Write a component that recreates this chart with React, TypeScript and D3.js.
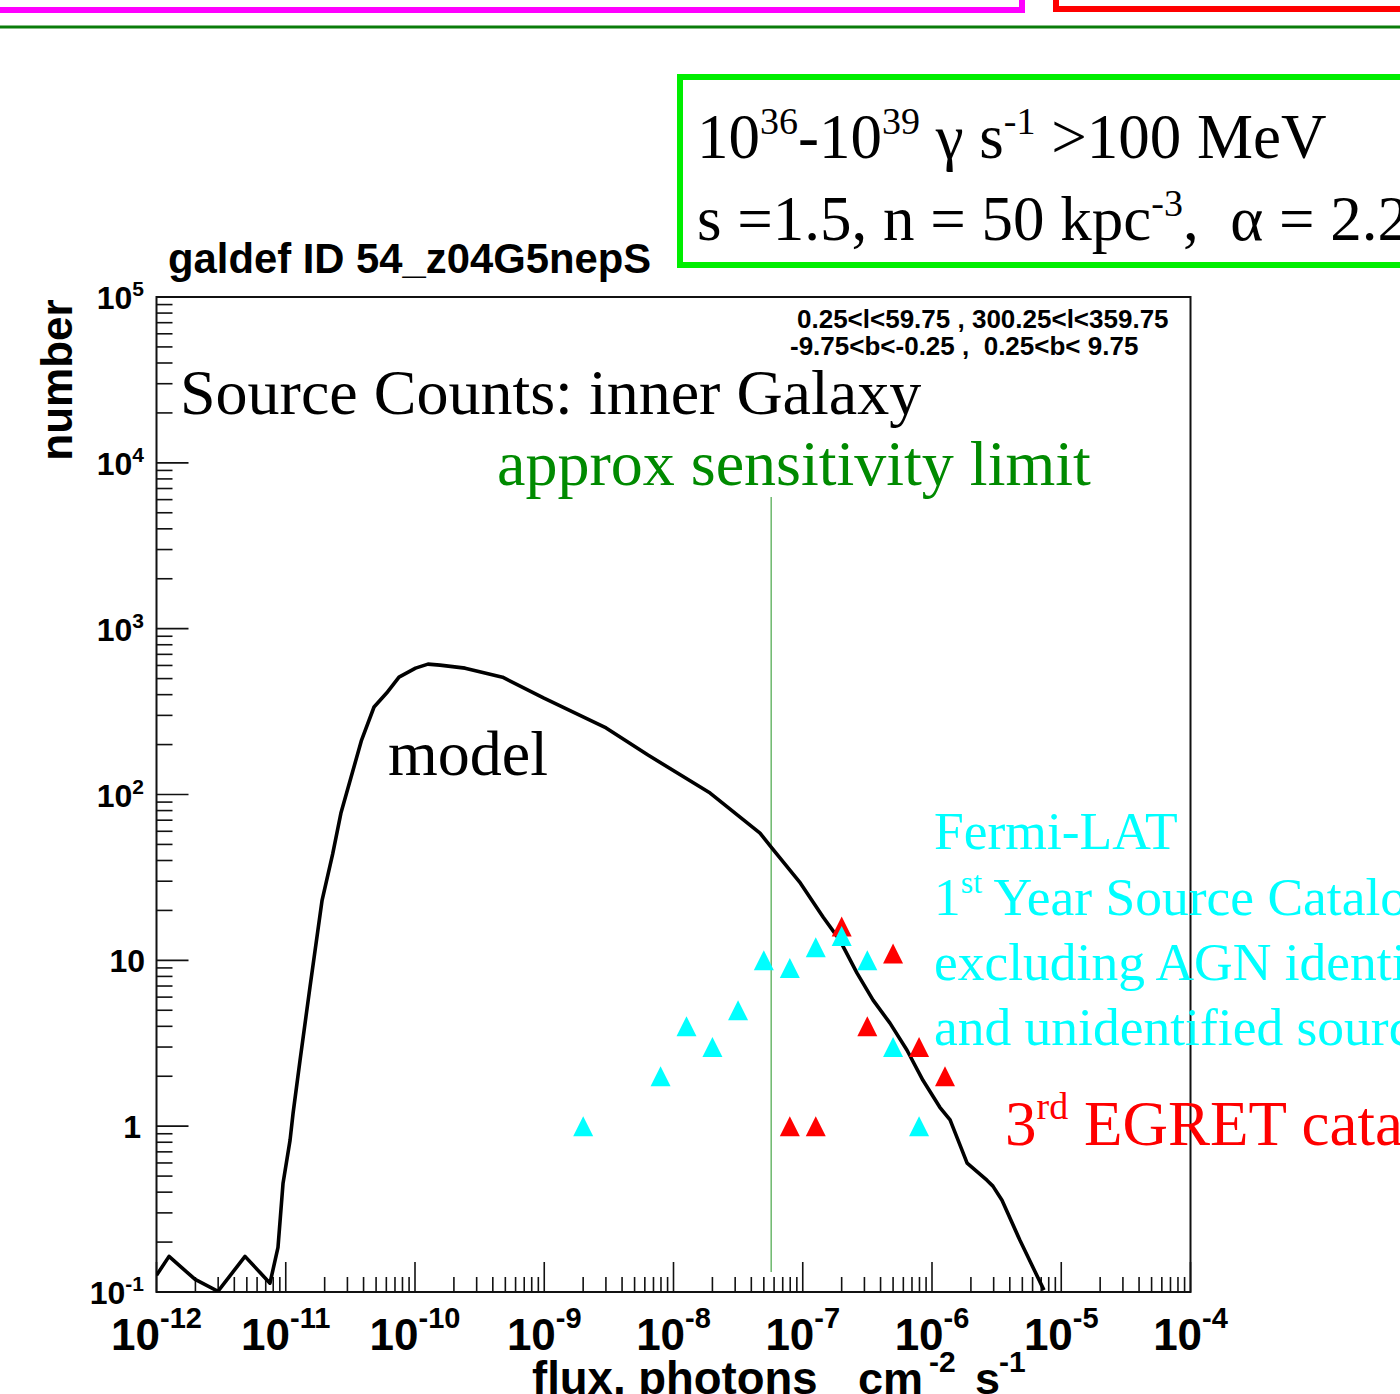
import React from "react";
import * as d3 from "d3";

// ---- data ----
const modelFlux = [1.0e-12, 1.25e-12, 1.99e-12, 2.99e-12, 4.84e-12, 7.55e-12, 8.71e-12, 9.53e-12, 1.08e-11, 1.14e-11, 1.29e-11, 1.54e-11, 1.91e-11, 2.31e-11, 2.67e-11, 3.2e-11, 3.86e-11, 4.82e-11, 6.03e-11, 7.52e-11, 1.01e-10, 1.26e-10, 1.56e-10, 2.44e-10, 4.76e-10, 9.95e-10, 3.01e-9, 6.35e-9, 1.92e-8, 4.67e-8, 5.78e-8, 9.6e-8, 1.44e-7, 1.94e-7, 2.63e-7, 3.5e-7, 4.73e-7, 6.41e-7, 8.51e-7, 1.15e-6, 1.38e-6, 1.87e-6, 2.66e-6, 2.96e-6, 3.48e-6, 4.79e-6, 7.35e-6];
const modelCounts = [0.126, 0.164, 0.119, 0.101, 0.164, 0.113, 0.186, 0.453, 0.824, 1.2, 2.5, 6.9, 23, 44, 77, 127, 213, 337, 409, 510, 578, 611, 603, 578, 510, 381, 252, 173, 102, 58.5, 47.5, 29.2, 18.2, 13.2, 8.37, 5.75, 4.18, 2.87, 1.89, 1.30, 1.09, 0.598, 0.472, 0.435, 0.358, 0.205, 0.1026];

const fermiFlux = [2.0e-9, 7.94e-9, 1.26e-8, 2.0e-8, 3.16e-8, 5.0e-8, 7.94e-8, 1.26e-7, 2.0e-7, 3.16e-7, 5.0e-7, 7.94e-7];
const fermiCounts = [1, 2, 4, 3, 5, 10, 9, 12, 14, 10, 3, 1];

const egretFlux = [7.94e-8, 1.26e-7, 2.0e-7, 3.16e-7, 5.0e-7, 7.94e-7, 1.26e-6];
const egretCounts = [1, 1, 16, 4, 11, 3, 2];

const sensitivityFlux = 5.7e-8;

const xDecades = [-12, -11, -10, -9, -8, -7, -6, -5, -4];
const yDecades = [-1, 0, 1, 2, 3, 4, 5];

const SANS = "'Liberation Sans', Arial, Helvetica, sans-serif";
const SERIF = "'Liberation Serif', 'Times New Roman', Times, serif";

export default function App() {
  const L = 156.5, R = 1190.5, T = 297, B = 1292;
  const x = d3.scaleLog().domain([1e-12, 1e-4]).range([L, R]);
  const y = d3.scaleLog().domain([1e-1, 1e5]).range([B, T]);

  const line = d3
    .line<number>()
    .x((_, i) => x(modelFlux[i]))
    .y((_, i) => y(modelCounts[i]));

  const xMinor: number[] = [];
  xDecades.slice(0, -1).forEach((d) => {
    for (let k = 2; k <= 9; k++) xMinor.push(k * Math.pow(10, d));
  });
  const yMinor: number[] = [];
  yDecades.slice(0, -1).forEach((d) => {
    for (let k = 2; k <= 9; k++) yMinor.push(k * Math.pow(10, d));
  });

  const tri = (cx: number, cy: number) =>
    `M${cx},${cy - 10}L${cx + 10},${cy + 10}L${cx - 10},${cy + 10}Z`;

  const yLabel = (d: number) => {
    const cy = y(Math.pow(10, d));
    if (d === 0)
      return (
        <text key={d} x={141} y={cy + 12} fontFamily={SANS} fontWeight="bold" fontSize={32} textAnchor="end">1</text>
      );
    if (d === 1)
      return (
        <text key={d} x={145} y={cy + 12} fontFamily={SANS} fontWeight="bold" fontSize={32} textAnchor="end">10</text>
      );
    return (
      <text key={d} x={144} y={cy + 12} fontFamily={SANS} fontWeight="bold" fontSize={32} textAnchor="end">
        10<tspan fontSize={21} dy={-13}>{d}</tspan>
      </text>
    );
  };

  return (
    <svg width={1400} height={1394} style={{ position: "absolute", left: 0, top: 0, background: "#fff" }}>
      <defs>
        <clipPath id="plotclip">
          <rect x={L} y={T} width={R - L} height={B - T} />
        </clipPath>
      </defs>
      <rect x={0} y={0} width={1400} height={1394} fill="#fff" />

      {/* top decorations */}
      <rect x={-20} y={-30} width={1042} height={40} fill="none" stroke="#ff00ff" strokeWidth={6} />
      <rect x={1056} y={-30} width={400} height={39} fill="none" stroke="#ff0000" strokeWidth={6} />
      <line x1={0} x2={1400} y1={27} y2={27} stroke="#0a7d0a" strokeWidth={3} />

      {/* green parameter box */}
      <rect x={680} y={77} width={760} height={188} fill="#fff" stroke="#00ee00" strokeWidth={6} />
      <text x={697} y={158} fontFamily={SERIF} fontSize={63}>
        10<tspan fontSize={38} dy={-24}>36</tspan>
        <tspan dy={24}>-10</tspan>
        <tspan fontSize={38} dy={-24}>39</tspan>
        <tspan dy={24}>{" γ s"}</tspan>
        <tspan fontSize={38} dy={-24}>-1</tspan>
        <tspan dy={24}>{" >100 MeV"}</tspan>
      </text>
      <text x={697} y={240} fontFamily={SERIF} fontSize={63} style={{ whiteSpace: "pre" }}>
        {"s =1.5, n = 50 kpc"}
        <tspan fontSize={38} dy={-24}>-3</tspan>
        <tspan dy={24}>{",  α = 2.2"}</tspan>
      </text>

      {/* title */}
      <text x={168} y={273} fontFamily={SANS} fontWeight="bold" fontSize={41.8}>galdef ID 54_z04G5nepS</text>

      {/* frame */}
      <rect x={L} y={T} width={R - L} height={B - T} fill="none" stroke="#111" strokeWidth={2} />

      {/* x ticks */}
      {xDecades.map((d) => (
        <line key={"xM" + d} x1={x(Math.pow(10, d))} x2={x(Math.pow(10, d))} y1={B} y2={B - 30} stroke="#111" strokeWidth={1.6} />
      ))}
      {xMinor.map((v, i) => (
        <line key={"xm" + i} x1={x(v)} x2={x(v)} y1={B} y2={B - 15} stroke="#111" strokeWidth={1.6} />
      ))}
      {/* y ticks */}
      {yDecades.map((d) => (
        <line key={"yM" + d} x1={L} x2={L + 32} y1={y(Math.pow(10, d))} y2={y(Math.pow(10, d))} stroke="#111" strokeWidth={1.6} />
      ))}
      {yMinor.map((v, i) => (
        <line key={"ym" + i} x1={L} x2={L + 16} y1={y(v)} y2={y(v)} stroke="#111" strokeWidth={1.6} />
      ))}

      {/* x tick labels */}
      {xDecades.map((d) => (
        <text key={"xl" + d} x={x(Math.pow(10, d))} y={1350} fontFamily={SANS} fontWeight="bold" fontSize={44} textAnchor="middle">
          10<tspan fontSize={29} dy={-22}>{d}</tspan>
        </text>
      ))}
      {/* y tick labels */}
      {yDecades.map((d) => yLabel(d))}

      {/* axis titles */}
      <text transform="translate(72,380) rotate(-90)" fontFamily={SANS} fontWeight="bold" fontSize={44} textAnchor="middle">number</text>
      <text x={532} y={1394} fontFamily={SANS} fontWeight="bold" fontSize={45.5}>flux, photons</text>
      <text x={858} y={1394} fontFamily={SANS} fontWeight="bold" fontSize={45}>cm</text>
      <text x={929} y={1372} fontFamily={SANS} fontWeight="bold" fontSize={30}>-2</text>
      <text x={975} y={1394} fontFamily={SANS} fontWeight="bold" fontSize={45}>s</text>
      <text x={999} y={1372} fontFamily={SANS} fontWeight="bold" fontSize={30}>-1</text>

      {/* region text */}
      <text x={797} y={328} fontFamily={SANS} fontWeight="bold" fontSize={26} style={{ whiteSpace: "pre" }}>{"0.25<l<59.75 , 300.25<l<359.75"}</text>
      <text x={790} y={355} fontFamily={SANS} fontWeight="bold" fontSize={26} style={{ whiteSpace: "pre" }}>{"-9.75<b<-0.25 ,  0.25<b< 9.75"}</text>

      {/* annotations */}
      <text x={180} y={414} fontFamily={SERIF} fontSize={64}>Source Counts: inner Galaxy</text>
      <text x={497} y={485} fontFamily={SERIF} fontSize={64} fill="#008a00">approx sensitivity limit</text>
      <text x={388} y={775} fontFamily={SERIF} fontSize={64}>model</text>

      {/* sensitivity line */}
      <line x1={x(sensitivityFlux)} x2={x(sensitivityFlux)} y1={497} y2={1272} stroke="#6cb86c" strokeWidth={1.5} />

      {/* model */}
      <g clipPath="url(#plotclip)">
        <path d={line(modelFlux) || ""} fill="none" stroke="#000" strokeWidth={3.6} strokeLinejoin="round" />
      </g>

      {/* points */}
      {egretFlux.map((f, i) => (
        <path key={"e" + i} d={tri(x(f), y(egretCounts[i]))} fill="#ff0000" />
      ))}
      {fermiFlux.map((f, i) => (
        <path key={"f" + i} d={tri(x(f), y(fermiCounts[i]))} fill="#00ffff" />
      ))}

      {/* legend texts */}
      <g fontFamily={SERIF} fontSize={53.5} fill="#00ffff">
        <text x={934} y={849}>Fermi-LAT</text>
        <text x={934} y={915}>
          1<tspan fontSize={32} dy={-22}>st</tspan>
          <tspan dy={22}>{" Year Source Catalog"}</tspan>
        </text>
        <text x={934} y={980}>excluding AGN identified</text>
        <text x={934} y={1045}>and unidentified sources</text>
      </g>
      <text x={1005} y={1145} fontFamily={SERIF} fontSize={63} fill="#ff0000">
        3<tspan fontSize={38} dy={-26}>rd</tspan>
        <tspan dy={26}>{" EGRET catalog"}</tspan>
      </text>
    </svg>
  );
}
